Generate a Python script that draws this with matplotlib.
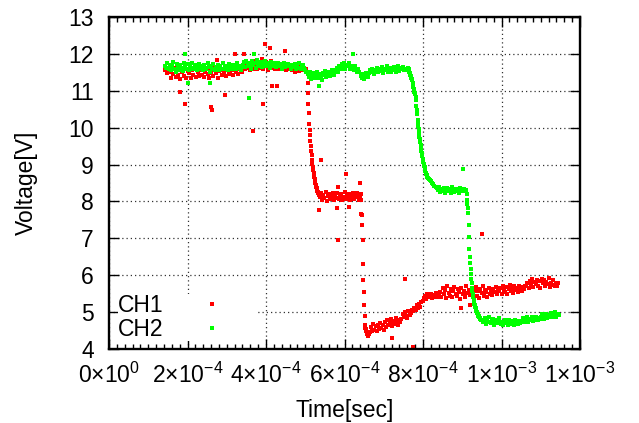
import numpy as np
import matplotlib
matplotlib.use('Agg')
import matplotlib.pyplot as plt
from matplotlib.ticker import MultipleLocator

plt.rcParams['font.family'] = 'Liberation Sans'
plt.rcParams['mathtext.fontset'] = 'custom'
plt.rcParams['mathtext.rm'] = 'Liberation Sans'
plt.rcParams['mathtext.it'] = 'Liberation Sans:italic'
plt.rcParams['mathtext.bf'] = 'Liberation Sans:bold'

US = 1e-6  # samples are written as (start in us, step in us, volts)

# ---- CH1 (red) ----
ch1_flat_a = """
11.55 11.62 11.48 11.52 11.60 11.35 11.58 11.45 11.63 11.38 11.55 11.42 11.60 11.33 11.50
11.57 11.40 11.62 11.36 11.53 11.47 11.60 11.34 11.55 11.44 11.58 11.38 11.62 11.50 11.41
11.56 11.43 11.62 11.37 11.52 11.60 11.45 11.35 11.58 11.49 11.63 11.40 11.55 11.47 11.60
11.36 11.53 11.62 11.44 11.57 11.50 11.65 11.39 11.58 11.52 11.46 11.63 11.55 11.42 11.60
11.50 11.66 11.45 11.58 11.62 11.52
11.65 11.72 11.58 11.80 11.62 11.70 11.55 11.76 11.68 11.60 11.82 11.66 11.58 11.74 11.63
11.70 11.85 11.60 11.72 11.66 11.78 11.56 11.70 11.64 11.80 11.62 11.73 11.58 11.68 11.76
11.60 11.70 11.65 11.58 11.72 11.62 11.68 11.55 11.66 11.60
11.58 11.62 11.55 11.66 11.52 11.60 11.57 11.64 11.53 11.62 11.58 11.55 11.63 11.56 11.60
"""
ch1_fall_a = """
11.20 10.95 10.65 10.40 10.10 9.95 9.80 9.65 9.50 9.38 9.25 9.12 9.02 8.93 8.85
8.78 8.72 8.66 8.60 8.55 8.50 8.45 8.40 8.36 8.32 8.29 8.26 8.24 8.22 8.18
"""
ch1_flat_b = """
8.12 8.22 8.05 8.18 8.10 8.25 8.02 8.15 8.20 8.08 8.13 8.24 8.04 8.17 8.10 8.22 8.06 8.14
8.19 8.03 8.12 8.25 8.08 8.16 8.11 8.21 8.05 8.14 8.23 8.07 8.18 8.12 8.24 8.04 8.15 8.20
"""
ch1_fall_b = """
8.05 7.63 7.36 6.95 6.30 5.87 5.55 5.20 4.90 4.65 4.58 4.55 4.50 4.48 4.45 4.42 4.40 4.38 4.36 4.40
"""
ch1_rise = """
4.45 4.60 4.50 4.68 4.52 4.62 4.48 4.66 4.55 4.70 4.58 4.64 4.52
4.72 4.60 4.78 4.65 4.70 4.82 4.62 4.75 4.68 4.85 4.72 4.66 4.80 4.74
4.82 4.95 4.86 5.00 4.90 4.84 5.02 4.93 4.98 5.06
5.02 5.12 5.05 5.18 5.10 5.22 5.15 5.28 5.30
5.38 5.45 5.35 5.48 5.40 5.44 5.50 5.38 5.46 5.42 5.52 5.40 5.48 5.44
5.55 5.42 5.65 5.48 5.60 5.38 5.70 5.52 5.45 5.62 5.40 5.58 5.68 5.50 5.44 5.63 5.55 5.36
5.66 5.48 5.58 5.42 5.70 5.52 5.60 5.46
5.50 5.62 5.40 5.56 5.68 5.45 5.58 5.38 5.64 5.52 5.70 5.44 5.60 5.55 5.42 5.66 5.50 5.58
5.46 5.62 5.54 5.68 5.48 5.60
5.58 5.66 5.50 5.72 5.60 5.55 5.68 5.48 5.63 5.74 5.56 5.62 5.52 5.70 5.60 5.66 5.54 5.72
5.62 5.58 5.68 5.64 5.72
5.70 5.80 5.65 5.85 5.74 5.90 5.68 5.82 5.76 5.88 5.72 5.84 5.66 5.90 5.78 5.86 5.70 5.82
5.75 5.92 5.68 5.80 5.74 5.86 5.70 5.78 5.72 5.80
"""
ch1_segments = [(143, 3, ch1_flat_a), (506, 1, ch1_fall_a), (537, 3, ch1_flat_b),
                (643, 1, ch1_fall_b), (664, 3, ch1_rise)]
ch1_stray_t = [181, 194, 260, 262, 275, 296, 321, 344, 367, 392, 397, 410, 415, 428, 448,
               535, 539, 580, 583, 583, 603, 611, 640, 642, 720, 754, 774, 897, 920, 950]
ch1_stray_v = [10.96, 10.64, 10.55, 10.47, 11.83, 10.88, 12.0, 12.0, 9.91, 10.64, 12.27, 12.16,
               11.13, 11.13, 12.08, 7.77, 9.12, 7.82, 8.4, 6.95, 8.74, 7.85, 8.5, 7.66, 4.31,
               5.9, 4.06, 5.1, 5.19, 7.12]

# ---- CH2 (green) ----
ch2_flat_a = """
11.68 11.62 11.75 11.58 11.70 11.55 11.66 11.78 11.60 11.52 11.72 11.64 11.57 11.70 11.62
11.54 11.76 11.66 11.60 11.72 11.56 11.68 11.63 11.74 11.58 11.66 11.70 11.55 11.64 11.72
11.60 11.66 11.55 11.70 11.62 11.58 11.74 11.64 11.52 11.68 11.60 11.72 11.57 11.65 11.62
11.70 11.55 11.66 11.60 11.75 11.58 11.64 11.68 11.56 11.72 11.62 11.66 11.58 11.70 11.64
11.60 11.74 11.62 11.68 11.57 11.66
11.70 11.78 11.64 11.82 11.72 11.66 11.76 11.60 11.80 11.70 11.74 11.62 11.84 11.72 11.68
11.78 11.64 11.76 11.70 11.80 11.66 11.74 11.70 11.62 11.78 11.72 11.68 11.76 11.64 11.70
11.74 11.66 11.72 11.60 11.70 11.76 11.64 11.68 11.72 11.66
11.66 11.60 11.70 11.64 11.72 11.58 11.68 11.62 11.74 11.60 11.66 11.70 11.62 11.56 11.50
11.45 11.38 11.50 11.32 11.42 11.48 11.35 11.44 11.52 11.36 11.46 11.40 11.30 11.48 11.42
11.54 11.38 11.45 11.50 11.40 11.47 11.55 11.43 11.52
11.56 11.62 11.50 11.66 11.58 11.72 11.64 11.76 11.60 11.70 11.66 11.74 11.58 11.68 11.62
11.55 11.66 11.60 11.52 11.58 11.50
11.40 11.34 11.45 11.32 11.42 11.48 11.38
11.48 11.55 11.50 11.60 11.46 11.56 11.52 11.62 11.50 11.58 11.54 11.64 11.48 11.60 11.55
11.66 11.52 11.58 11.62 11.50 11.56 11.64 11.58 11.52 11.60 11.66 11.54 11.62 11.58 11.64
11.56 11.60 11.55 11.62 11.58
"""
ch2_fall_a = """
11.52 11.48 11.47 11.44 11.40 11.36 11.33 11.30 11.28 11.20 11.11 11.06 11.02 10.98 10.95
10.92 10.82 10.74 10.58 10.48 10.38 10.22 10.12 10.04 9.97 9.86 9.76 9.68 9.60 9.52
9.44 9.38 9.30 9.22 9.16 9.10 9.06 9.01 8.97 8.93 8.88 8.82 8.78 8.74 8.71 8.68 8.66 8.64
"""
ch2_flat_b = """
8.62 8.58 8.55 8.50 8.47 8.42 8.40 8.36 8.30 8.38 8.26 8.34 8.28 8.37 8.24 8.32 8.36
8.27 8.33 8.23 8.38 8.30 8.26 8.35 8.29 8.33 8.24 8.37 8.30 8.27 8.34 8.28 8.32
"""
ch2_fall_b = """
8.20 8.04 7.92 7.82 7.68 7.36 7.05 6.70 6.50 6.32 6.18 6.02 5.90 5.78 5.66 5.56 5.48 5.42
5.34 5.27 5.22 5.18 5.14 5.11 5.08 5.04 5.00 4.97 4.94 4.92 4.90 4.89 4.87 4.85 4.83 4.82
4.80 4.79 4.78
"""
ch2_flat_c = """
4.80 4.72 4.85 4.68 4.78 4.74 4.86 4.70 4.76 4.82 4.66 4.75 4.80 4.70 4.84 4.73 4.68
4.74 4.66 4.78 4.70 4.72 4.65 4.80 4.68 4.75 4.70 4.66 4.78 4.72 4.68 4.76 4.70 4.74
4.76 4.84 4.72 4.80 4.86 4.74 4.82 4.78 4.88 4.75 4.83 4.80 4.86 4.78 4.84 4.82
4.86 4.94 4.82 4.90 4.96 4.85 4.92 4.88 4.98 4.86 4.94 4.90 5.00 4.88 4.95 4.92
"""
ch2_segments = [(143, 3, ch2_flat_a), (765, 1, ch2_fall_a), (814, 3, ch2_flat_b),
                (911, 1, ch2_fall_b), (951, 3, ch2_flat_c)]
ch2_stray_t = [194, 201, 257, 357, 370, 536, 622, 903]
ch2_stray_v = [12.0, 11.2, 11.2, 10.8, 12.0, 11.13, 12.0, 8.88]

xtick_vals = [0, 2e-4, 4e-4, 6e-4, 8e-4, 1.0e-3, 1.2e-3]
xtick_text = ['0×10$^{0}$', '2×10$^{-4}$', '4×10$^{-4}$', '6×10$^{-4}$',
              '8×10$^{-4}$', '1×10$^{-3}$', '1×10$^{-3}$']
ytick_vals = [4, 5, 6, 7, 8, 9, 10, 11, 12, 13]


def build(segments, stray_t, stray_v):
    ts, vs = [], []
    for t0, step, text in segments:
        v = np.array(text.split(), dtype=float)
        ts.append((t0 + step * np.arange(len(v))) * US)
        vs.append(v)
    ts.append(np.array(stray_t) * US)
    vs.append(np.array(stray_v))
    return np.concatenate(ts), np.concatenate(vs)


t1, v1 = build(ch1_segments, ch1_stray_t, ch1_stray_v)
t2, v2 = build(ch2_segments, ch2_stray_t, ch2_stray_v)

FS = 16.5
fig = plt.figure(figsize=(6.39, 4.23), dpi=100)
ax = fig.add_axes([0.1706, 0.1749, 0.7371, 0.7849])

ax.plot(t1, v1, 's', color='#ff0000', ms=2.3, mew=0, label='CH1')
ax.plot(t2, v2, 's', color='#00ff00', ms=2.5, mew=0, label='CH2')

ax.set_xlim(0, 1.2e-3)
ax.set_ylim(4, 13)
ax.set_xticks(xtick_vals)
ax.set_xticklabels(xtick_text)
ax.set_yticks(ytick_vals)
ax.xaxis.set_minor_locator(MultipleLocator(2e-5))

ax.tick_params(which='both', direction='in', top=True, right=True, labelsize=FS, width=1.0)
ax.tick_params(which='major', length=7.2)
ax.tick_params(which='minor', length=3.6)
ax.tick_params(axis='x', pad=9.5)
ax.tick_params(axis='y', pad=11)
for s in ax.spines.values():
    s.set_linewidth(1.7)

ax.set_axisbelow(True)
ax.grid(True, which='major', color='#333333', linewidth=0.9, linestyle=(0, (1, 2.4)))

ax.set_xlabel('Time[sec]', fontsize=FS)
ax.set_ylabel('Voltage[V]', fontsize=FS)
ax.xaxis.set_label_coords(0.5, -0.152)
ax.yaxis.set_label_coords(-0.152, 0.5)

leg = ax.legend(loc='lower left', bbox_to_anchor=(0.0192, 0.0241), borderaxespad=0,
                borderpad=0, markerfirst=False, handlelength=3.84, handletextpad=0.17,
                labelspacing=0.05, fontsize=FS, fancybox=False, framealpha=1,
                facecolor='white', edgecolor='none', markerscale=0.95)

fig.savefig('out.png', dpi=100)
